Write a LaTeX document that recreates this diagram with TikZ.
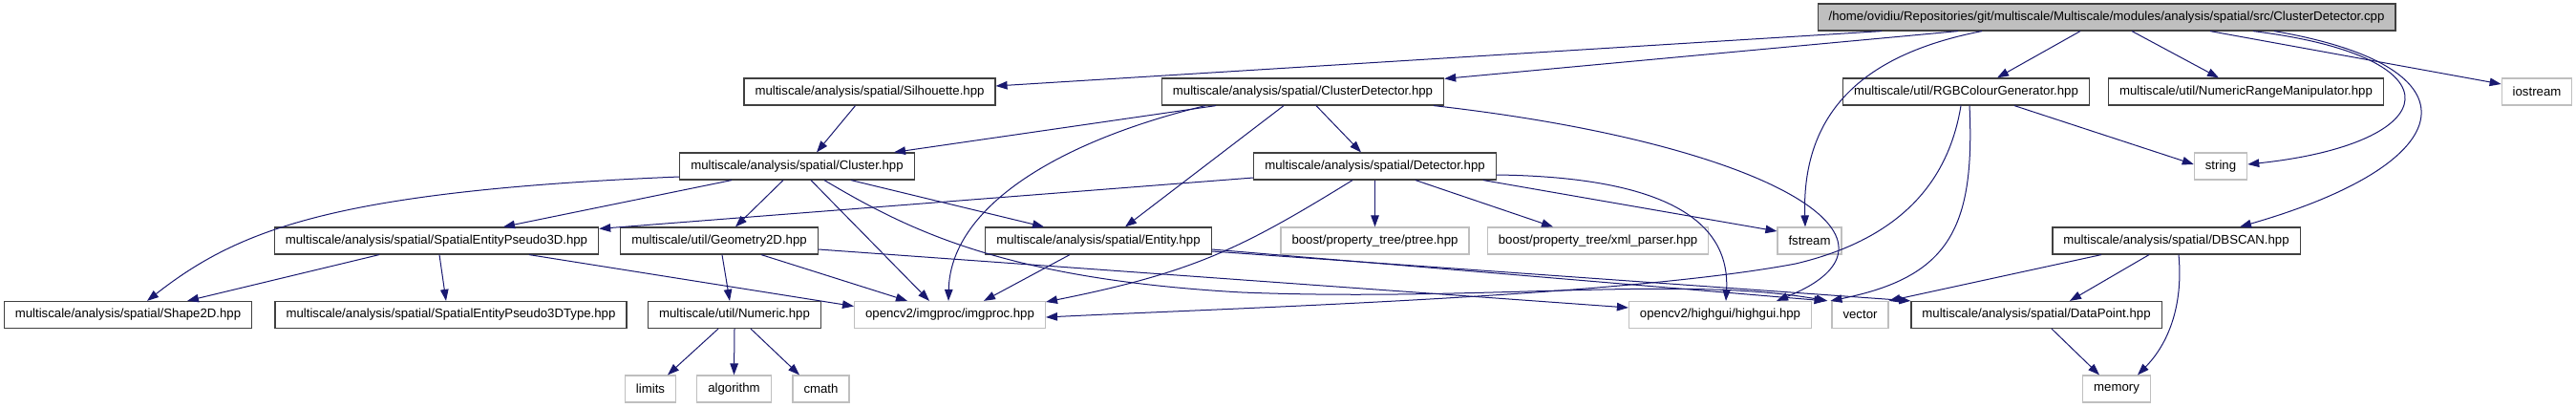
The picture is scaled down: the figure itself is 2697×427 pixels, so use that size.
\documentclass[tikz,border=0pt]{standalone}
\usepackage{fontspec}
\setmainfont{Liberation Sans}
\usepackage{tikz}
\usetikzlibrary{arrows.meta}
\definecolor{edgeblue}{RGB}{25, 25, 112}
\definecolor{boxgray}{RGB}{191, 191, 191}
\definecolor{darkline}{RGB}{64, 64, 64}

\begin{document}
\begin{tikzpicture}[
  x=1pt, y=-1pt,
  every node/.style = {font=\fontsize{13.2}{15}\selectfont},
  hdr/.style = {
    rectangle, draw=darkline, fill=white, line width=1.2pt,
    minimum height=28pt, inner xsep=11.5pt, inner ysep=0pt
  },
  sys/.style = {hdr, draw=boxgray},
  srcfile/.style = {hdr, fill=boxgray},
  arr/.style = {-{Triangle[length=12pt, width=8.5pt]}, line width=1pt, draw=edgeblue}
]
\fill[white] (0,0) rectangle (2697,427);
\useasboundingbox (0,0) rectangle (2697,427);

% ---- ROW 1: source file (y=18) ----
\node[srcfile] (root) at (2205.5,18) {/home/ovidiu/Repositories/git/multiscale/Multiscale/modules/analysis/spatial/src/ClusterDetector.cpp};

% ---- ROW 2 (y=96) ----
\node[hdr] (silh)     at (910.5,96)  {multiscale/analysis/spatial/Silhouette.hpp};
\node[hdr] (cdhpp)    at (1364,96)   {multiscale/analysis/spatial/ClusterDetector.hpp};
\node[hdr] (rgb)      at (2058.5,96) {multiscale/util/RGBColourGenerator.hpp};
\node[hdr] (nrm)      at (2351.5,96) {multiscale/util/NumericRangeManipulator.hpp};
\node[sys] (iostream) at (2656,96)   {iostream};

% ---- ROW 3 (y=174) ----
\node[hdr] (cluster)  at (834.5,174)  {multiscale/analysis/spatial/Cluster.hpp};
\node[hdr] (detector) at (1439.5,174) {multiscale/analysis/spatial/Detector.hpp};
\node[sys] (string)   at (2325,174)   {string};

% ---- ROW 4 (y=252) ----
\node[hdr] (sep3d)   at (457,252)    {multiscale/analysis/spatial/SpatialEntityPseudo3D.hpp};
\node[hdr] (geom)    at (753,252)    {multiscale/util/Geometry2D.hpp};
\node[hdr] (entity)  at (1150,252)   {multiscale/analysis/spatial/Entity.hpp};
\node[sys] (ptree)   at (1439.5,252) {boost/property\_tree/ptree.hpp};
\node[sys] (xml)     at (1673,252)   {boost/property\_tree/xml\_parser.hpp};
\node[sys] (fstream) at (1894.5,252) {fstream};
\node[hdr] (dbscan)  at (2278.5,252) {multiscale/analysis/spatial/DBSCAN.hpp};

% ---- ROW 5 (y=329.5) ----
\node[hdr] (shape)     at (134,329.5)   {multiscale/analysis/spatial/Shape2D.hpp};
\node[hdr] (sep3dtype) at (472,329.5)   {multiscale/analysis/spatial/SpatialEntityPseudo3DType.hpp};
\node[hdr] (numeric)   at (769,329.5)   {multiscale/util/Numeric.hpp};
\node[sys] (imgproc)   at (994.5,329.5) {opencv2/imgproc/imgproc.hpp};
\node[sys] (highgui)   at (1801,329.5)  {opencv2/highgui/highgui.hpp};
\node[sys] (vector)    at (1947.5,329.5){vector};
\node[hdr] (datapoint) at (2132,329.5)  {multiscale/analysis/spatial/DataPoint.hpp};

% ---- ROW 6 (y=407) ----
\node[sys] (limits)    at (681,407)   {limits};
\node[sys] (algorithm) at (768.5,407) {algorithm};
\node[sys] (cmath)     at (859.5,407) {cmath};
\node[sys] (memory)    at (2216,407)  {memory};

% ---- source file includes ----
\draw[arr] ([xshift=-235.5]root.south) -- ([yshift=6]silh.east);
\draw[arr] ([xshift=-155.5]root.south) -- ([yshift=-1]cdhpp.north east);
\draw[arr] ([xshift=-130.5]root.south) .. controls (1960,55) and (1886,110) .. ([xshift=-4.5]fstream.north);
\draw[arr] ([xshift=-27.5]root.south) -- ([xshift=32.5]rgb.north);
\draw[arr] ([xshift=26.5]root.south) -- ([xshift=-28.5]nrm.north);
\draw[arr] ([xshift=108.5]root.south) -- ([yshift=8]iostream.west);
\draw[arr] ([xshift=153.5]root.south) .. controls (2580,60) and (2560,150) .. ([yshift=2]string.east);
\draw[arr] ([xshift=175.5]root.south) .. controls (2600,70) and (2580,170) .. ([xshift=66.5]dbscan.north);

% ---- row 2 includes ----
\draw[arr] ([xshift=-15]silh.south) -- ([xshift=20.5]cluster.north);
\draw[arr] ([xshift=-91]cdhpp.south) -- ([xshift=101.5]cluster.north);
\draw[arr] ([xshift=-102]cdhpp.south) .. controls (1100,150) and (995,220) .. ([xshift=-1.5]imgproc.north);
\draw[arr] ([xshift=-20]cdhpp.south) -- ([xshift=28]entity.north);
\draw[arr] ([xshift=14]cdhpp.south) -- ([xshift=-14.5]detector.north);
\draw[arr] ([xshift=137]cdhpp.south) .. controls (1850,150) and (2020,250) .. ([xshift=59]highgui.north);
\draw[arr] ([xshift=50.5]rgb.south) -- ([yshift=2]string.west);
\draw[arr] ([xshift=-5.5]rgb.south) .. controls (2040,190) and (1990,250) .. (1880,276)
  .. controls (1700,310) and (1300,322) .. ([yshift=-2.5]imgproc.east);
\draw[arr] ([xshift=3.5]rgb.south) .. controls (2068,240) and (2040,290) .. ([xshift=-1]vector.north west);

% ---- row 3 includes ----
\draw[arr] ([xshift=-68.5]cluster.south) -- ([xshift=70]sep3d.north);
\draw[arr] ([yshift=-11]cluster.west) .. controls (350,200) and (250,240) .. ([xshift=20]shape.north);
\draw[arr] ([xshift=-14.5]cluster.south) -- ([xshift=17]geom.north);
\draw[arr] ([xshift=14.5]cluster.south) -- ([xshift=-21.5]imgproc.north);
\draw[arr] ([xshift=56.5]cluster.south) -- ([xshift=-57]entity.north);
\draw[arr] ([xshift=28.5]cluster.south) .. controls (950,240) and (1050,292) .. (1300,306)
  .. controls (1550,316) and (1760,288) .. ([xshift=-4]vector.north west);
\draw[arr] ([yshift=-12]detector.west) -- ([yshift=-2]sep3d.north east);
\draw[arr] ([xshift=-23.5]detector.south) .. controls (1300,260) and (1250,285) .. ([yshift=13.5]imgproc.east);
\draw[arr] (detector.south) -- (ptree.north);
\draw[arr] ([xshift=42.5]detector.south) -- ([xshift=-47]xml.north);
\draw[arr] ([xshift=113.5]detector.south) -- ([yshift=10]fstream.west);
\draw[arr] ([yshift=-9]detector.east) .. controls (1720,185) and (1812,220) .. ([xshift=6]highgui.north);

% ---- row 4 includes ----
\draw[arr] ([xshift=-60]sep3d.south) -- ([xshift=62]shape.north);
\draw[arr] ([xshift=3]sep3d.south) -- ([xshift=-5]sep3dtype.north);
\draw[arr] ([xshift=97]sep3d.south) -- ([yshift=9]imgproc.west);
\draw[arr] ([xshift=3]geom.south) -- ([xshift=-5]numeric.north);
\draw[arr] ([xshift=44]geom.south) -- ([xshift=-44.5]imgproc.north);
\draw[arr] ([yshift=-9]geom.east) -- ([yshift=7.5]highgui.west);
\draw[arr] ([xshift=-30]entity.south) -- ([xshift=35.5]imgproc.north);
\draw[arr] ([yshift=-9]entity.east) -- ([xshift=-6]vector.north west);
\draw[arr] ([yshift=-11]entity.east) -- (datapoint.north west);
\draw[arr] ([xshift=-78.5]dbscan.south) -- (vector.north east);
\draw[arr] ([xshift=-28.5]dbscan.south) -- ([xshift=35]datapoint.north);
\draw[arr] ([xshift=2.5]dbscan.south) .. controls (2286,320) and (2270,360) .. ([xshift=22]memory.north);

% ---- row 5 includes ----
\draw[arr] ([xshift=-17]numeric.south) -- ([xshift=18]limits.north);
\draw[arr] (numeric.south) -- (algorithm.north);
\draw[arr] ([xshift=17]numeric.south) -- ([xshift=-22.5]cmath.north);
\draw[arr] ([xshift=16]datapoint.south) -- ([xshift=-18]memory.north);

\end{tikzpicture}
\end{document}
